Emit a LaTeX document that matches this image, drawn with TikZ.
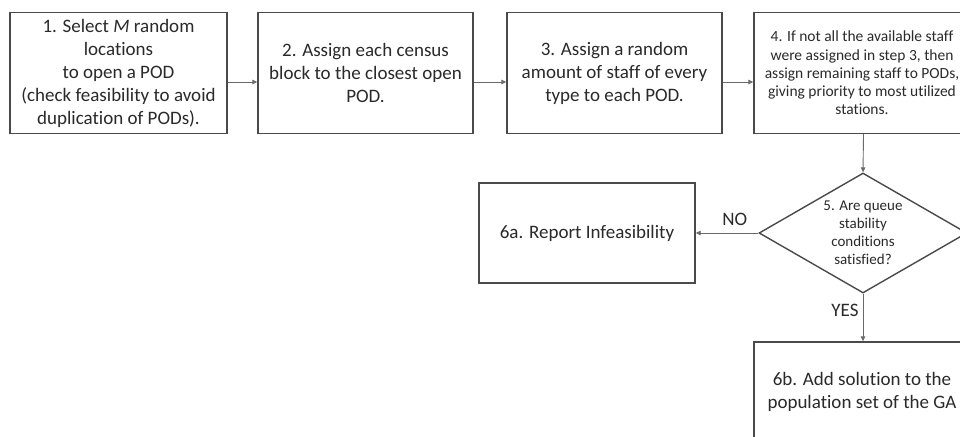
\documentclass[tikz,border=0pt]{standalone}
\usepackage{fontspec}
\setmainfont{Carlito}[Ligatures={NoCommon}]
\usetikzlibrary{arrows.meta,shapes.geometric}
\definecolor{boxline}{HTML}{4A4A4A}
\definecolor{arrline}{HTML}{6A6A6A}
\definecolor{txt}{HTML}{2A2A2A}
\tikzset{
  stepbox/.style={draw=boxline, line width=1.4pt, fill=white, text=txt, align=center,
    minimum height=121pt, inner sep=2pt, font=\fontsize{19}{23}\selectfont},
  smallbox/.style={stepbox, font=\fontsize{15.5}{18.3}\selectfont},
  decision/.style={diamond, draw=boxline, line width=1.4pt, fill=white, text=txt, align=center,
    aspect=1.73, inner sep=0pt, minimum width=208pt, minimum height=120pt,
    font=\fontsize{15}{18}\selectfont},
  arr/.style={draw=arrline, line width=0.9pt, -{Triangle[length=5pt,width=4.5pt]}},
  lbl/.style={text=txt, font=\fontsize{19}{23}\selectfont, inner sep=0pt}
}
\begin{document}
\begin{tikzpicture}[x=1pt,y=-1pt]
\useasboundingbox (0,0) rectangle (960,436);
\clip (0,0) rectangle (960,436);
\fill[white] (0,0) rectangle (960,436);
\node[stepbox, minimum width=217pt] (b1) at (118.5,73) {1. Select \textit{M} random\\locations\\to open a POD\\(check feasibility to avoid\\duplication of PODs).};
\node[stepbox, minimum width=215pt] (b2) at (365.5,73) {2. Assign each census\\block to the closest open\\POD.};
\node[stepbox, minimum width=215pt] (b3) at (614.5,73) {3. Assign a random\\amount of staff of every\\type to each POD.};
\node[smallbox, minimum width=216pt] (b4) at (862,73) {4. If not all the available staff\\were assigned in step 3, then\\assign remaining staff to PODs,\\giving priority to most utilized\\stations.};
\node[decision] (d5) at (863,233) {5. Are queue\\stability\\conditions\\satisfied?};
\node[stepbox, minimum width=216pt, minimum height=100pt] (b6a) at (587,233) {6a. Report Infeasibility};
\node[stepbox, minimum width=216pt, minimum height=100pt] (b6b) at (862,392) {6b. Add solution to the\\population set of the GA};
\draw[arr] ([yshift=-9pt]b1.east) -- ([yshift=-9pt]b2.west);
\draw[arr] ([yshift=-9pt]b2.east) -- ([yshift=-9pt]b3.west);
\draw[arr] ([yshift=-9pt]b3.east) -- ([yshift=-9pt]b4.west);
\draw[arr] ([xshift=1.5pt]b4.south) -- (d5.north);
\draw[arr] (d5.west) -- (b6a.east) node[lbl, pos=0.375, above=7pt] (no) {NO};
\draw[arr] (d5.south) -- (d5.south |- b6b.north) node[lbl, pos=0.35, left=4pt] (yes) {YES};
\end{tikzpicture}
\end{document}
